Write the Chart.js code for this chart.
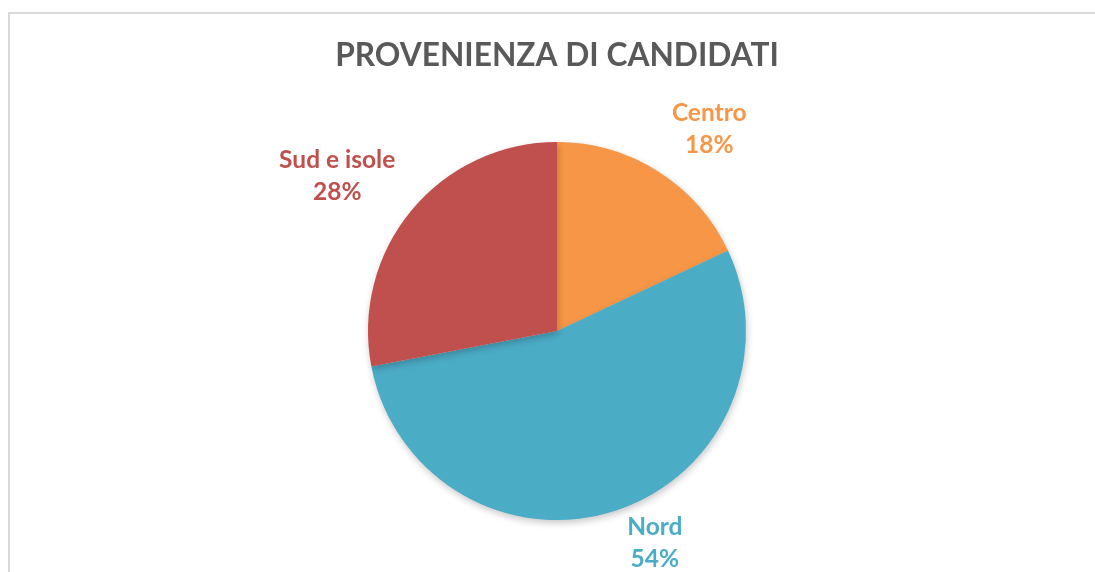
<!DOCTYPE html>
<html>
<head>
<meta charset="utf-8">
<script src="https://cdn.jsdelivr.net/npm/chart.js@4"></script>
<style>
  html, body { margin: 0; padding: 0; background: #fff; }
  #wrap { position: relative; width: 1095px; height: 572px; overflow: hidden; }
  #frame { position: absolute; left: 8px; top: 12px; width: 1200px; height: 700px;
           border-top: 2px solid #d9d9d9; border-left: 2px solid #d9d9d9; }
  canvas { position: absolute; left: 0; top: 0; }
</style>
</head>
<body>
<div id="wrap">
  <div id="frame"></div>
  <canvas id="chart-provenienza" width="1095" height="572"></canvas>
</div>
<script>
// Provenienza dei candidati — share by area
const areas = ["Centro", "Nord", "Sud e isole"];
const shares = [18, 54, 28];
const sliceColors = ["#F79646", "#4BACC6", "#C0504D"];

// soft drop shadow under the pie, like the Excel original
const pieShadow = {
  id: "pieShadow",
  beforeDatasetDraw(chart) {
    const ctx = chart.ctx;
    ctx.save();
    ctx.shadowColor = "rgba(0,0,0,0.22)";
    ctx.shadowBlur = 7;
    ctx.shadowOffsetX = 1;
    ctx.shadowOffsetY = 3;
  },
  afterDatasetDraw(chart) {
    chart.ctx.restore();
  },
};

// outside labels "name / pct%" placed along each slice's mid angle
const outsideLabels = {
  id: "outsideLabels",
  afterDatasetsDraw(chart, args, opts) {
    const ctx = chart.ctx;
    const meta = chart.getDatasetMeta(0);
    const total = shares.reduce((a, b) => a + b, 0);
    meta.data.forEach((arc, i) => {
      const p = arc.getProps(["x", "y", "startAngle", "endAngle", "outerRadius"], true);
      const tweak = opts.tweaks[i] || { dist: 60, shift: 0 };
      const mid = (p.startAngle + p.endAngle) / 2 + tweak.shift * Math.PI / 180;
      const r = p.outerRadius + tweak.dist;
      const x = p.x + Math.cos(mid) * r;
      const y = p.y + Math.sin(mid) * r;
      ctx.save();
      ctx.fillStyle = sliceColors[i];
      ctx.font = "bold 24.5px Lato, 'Open Sans', sans-serif";
      ctx.textAlign = "center";
      ctx.textBaseline = "middle";
      ctx.fillText(areas[i], x, y - 16);
      ctx.fillText(Math.round(shares[i] / total * 100) + "%", x, y + 16);
      ctx.restore();
    });
  },
};

new Chart(document.getElementById("chart-provenienza").getContext("2d"), {
  type: "pie",
  data: {
    labels: areas,
    datasets: [{
      data: shares,
      backgroundColor: sliceColors,
      borderWidth: 0,
    }],
  },
  options: {
    responsive: false,
    animation: false,
    layout: { padding: { left: 19, right: 0, top: 0, bottom: 52 } },
    plugins: {
      legend: { display: false },
      tooltip: { enabled: false },
      title: {
        display: true,
        text: "PROVENIENZA DI CANDIDATI",
        color: "#595959",
        font: { family: "Lato, 'Open Sans', sans-serif", size: 31.7, weight: "bold" },
        lineHeight: 1.2,
        padding: { top: 37, bottom: 67 },
      },
      outsideLabels: {
        tweaks: [
          { dist: 64, shift: 4.6 },
          { dist: 45, shift: -6.7 },
          { dist: 80, shift: -4.4 },
        ],
      },
    },
  },
  plugins: [pieShadow, outsideLabels],
});
</script>
</body>
</html>
